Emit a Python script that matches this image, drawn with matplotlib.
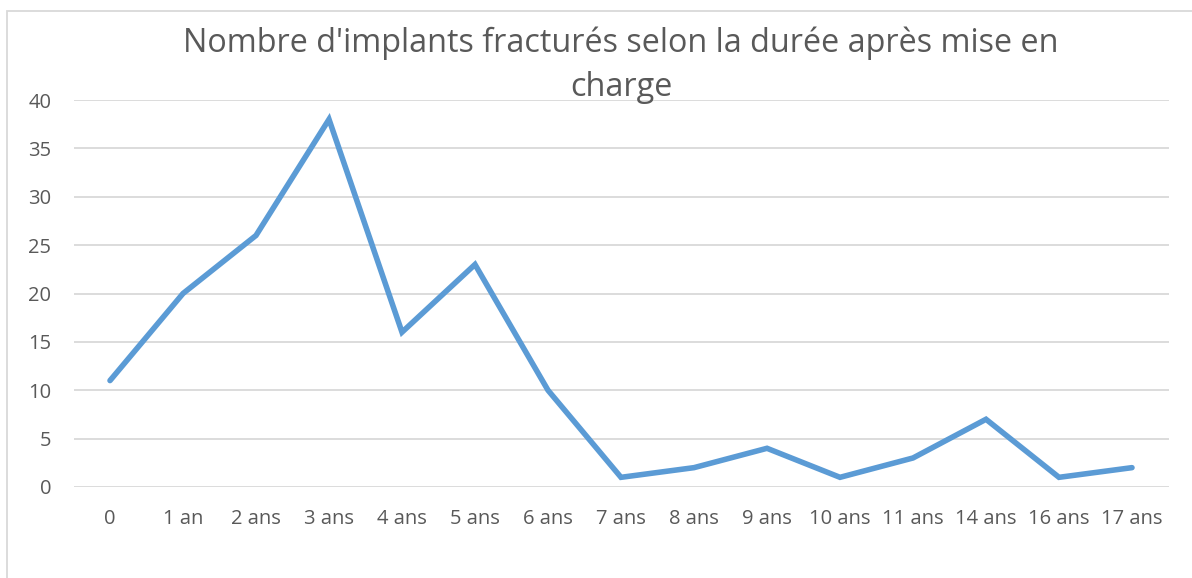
import matplotlib.pyplot as plt
from matplotlib.patches import Rectangle

# Données
categories = ['0', '1 an', '2 ans', '3 ans', '4 ans', '5 ans', '6 ans', '7 ans',
              '8 ans', '9 ans', '10 ans', '11 ans', '14 ans', '16 ans', '17 ans']
valeurs = [11, 20, 26, 38, 16, 23, 10, 1, 2, 4, 1, 3, 7, 1, 2]
y_ticks = [0, 5, 10, 15, 20, 25, 30, 35, 40]

plt.rcParams['font.family'] = ['Open Sans', 'DejaVu Sans']
gris = '#595959'

fig = plt.figure(figsize=(11.92, 5.78), dpi=100)
ax = fig.add_axes([73.5 / 1192, 1 - 487 / 578, 1095 / 1192, 387 / 578])

x = list(range(len(categories)))
ax.plot(x, valeurs, color='#5B9BD5', linewidth=4, solid_joinstyle='miter',
        solid_capstyle='round', zorder=3)

ax.set_xlim(-0.5, len(categories) - 0.5)
ax.set_ylim(0, 40)
ax.set_yticks(y_ticks)
ax.set_xticks(x)
ax.set_xticklabels(categories)
ax.grid(axis='y', color='#D9D9D9', linewidth=1.3)
ax.set_axisbelow(True)
for s in ax.spines.values():
    s.set_visible(False)
ax.tick_params(axis='y', length=0, pad=16, labelsize=14.5, labelcolor=gris)
ax.tick_params(axis='x', length=0, pad=16, labelsize=14.5, labelcolor=gris)

# Titre sur deux lignes, comme dans Excel
fig.text(621 / 1192, 1 - 26 / 578,
         "Nombre d'implants fracturés selon la durée après mise en\ncharge",
         ha='center', va='top', fontsize=23.3, color=gris, linespacing=1.48)

# Bordure du graphique (visible en haut et à gauche)
fig.patches.append(Rectangle((7 / 1192, -0.1), 1.2, 1 - 11 / 578 + 0.1,
                             transform=fig.transFigure, fill=False,
                             edgecolor='#D9D9D9', linewidth=1.3))

plt.savefig('out.png', dpi=100)
